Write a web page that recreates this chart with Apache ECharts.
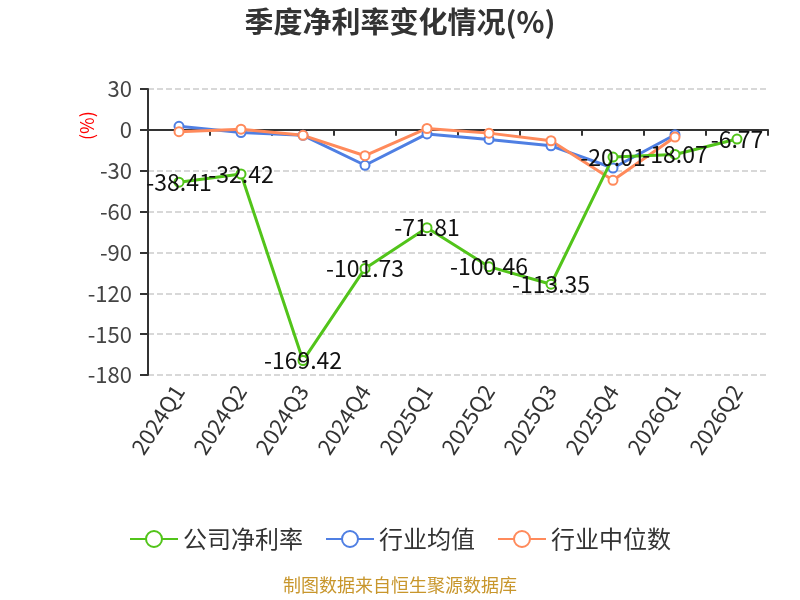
<!DOCTYPE html>
<html>
<head>
<meta charset="utf-8">
<script src="https://cdn.jsdelivr.net/npm/echarts@6/dist/echarts.min.js"></script>
<style>
  html, body { margin: 0; padding: 0; background: #fff; }
  #chart { width: 800px; height: 600px; }
</style>
</head>
<body>
<div id="chart"></div>
<script>
const quarters = ["2024Q1", "2024Q2", "2024Q3", "2024Q4", "2025Q1", "2025Q2", "2025Q3", "2025Q4", "2026Q1", "2026Q2"];
const companyRate = [-38.41, -32.42, -169.42, -101.73, -71.81, -100.46, -113.35, -20.01, -18.07, -6.77];
const industryAvg = [2.6, -2, -4, -26, -3, -7, -11.7, -28, -3.6, null];
const industryMedian = [-1.3, 0.5, -4, -19, 1, -2.4, -8, -37, -5.3, null];
const yTicks = { min: -180, max: 30, step: 30 };

const font = "'Noto Sans CJK SC', 'Noto Sans', sans-serif";
const chart = echarts.init(document.getElementById('chart'), null, { renderer: 'canvas' });

const option = {
    animation: false,
    backgroundColor: '#fff',
    textStyle: { fontFamily: font },
    color: ['#52c41a', '#4f7fe3', '#ff8a5b'],
    title: {
        text: '季度净利率变化情况(%)',
        left: 'center',
        top: 2,
        textStyle: { fontSize: 29, fontWeight: 'bold', color: '#333', fontFamily: font }
    },
    grid: { left: 148, right: 32, top: 89, bottom: 225 },
    legend: {
        bottom: 44,
        left: 'center',
        itemWidth: 48,
        itemHeight: 20,
        itemGap: 22,
        textStyle: { fontSize: 24, color: '#333', fontFamily: font },
        data: ['公司净利率', '行业均值', '行业中位数']
    },
    graphic: [
        {
            type: 'text',
            left: 'center',
            top: 576,
            style: { text: '制图数据来自恒生聚源数据库', fill: '#c8962c', fontSize: 18, fontFamily: font }
        },
        {
            type: 'text',
            x: 78,
            y: 140,
            rotation: Math.PI / 2,
            style: { text: '(%)', fill: '#ff0000', fontSize: 18, fontFamily: font }
        }
    ],
    xAxis: [
        {
            type: 'category',
            data: quarters,
            boundaryGap: true,
            axisLine: { show: false, onZero: false },
            axisTick: { show: false },
            axisLabel: { rotate: 57, fontSize: 22, color: '#333', margin: 12, fontFamily: font }
        },
        {
            type: 'category',
            data: quarters,
            position: 'bottom',
            boundaryGap: true,
            axisLine: { show: true, onZero: true, lineStyle: { color: '#333', width: 2 } },
            axisTick: { show: true, length: 6, lineStyle: { color: '#333', width: 2 } },
            axisLabel: { show: false }
        }
    ],
    yAxis: {
        type: 'value',
        min: yTicks.min,
        max: yTicks.max,
        interval: yTicks.step,
        axisLine: { show: true, lineStyle: { color: '#333', width: 2 } },
        axisTick: { show: true, length: 8, lineStyle: { color: '#333', width: 2 } },
        axisLabel: { fontSize: 22, color: '#444', margin: 16, fontFamily: font },
        splitLine: { show: true, lineStyle: { color: '#ccc', type: 'dashed', width: 1.5 } }
    },
    series: [
        {
            name: '公司净利率',
            type: 'line',
            xAxisIndex: 0,
            data: companyRate,
            symbol: 'emptyCircle',
            symbolSize: 9,
            lineStyle: { width: 3 },
            label: {
                show: true,
                position: 'inside',
                fontSize: 23,
                color: '#111',
                fontFamily: font
            },
            z: 3
        },
        {
            name: '行业均值',
            type: 'line',
            xAxisIndex: 0,
            data: industryAvg,
            symbol: 'emptyCircle',
            symbolSize: 9,
            lineStyle: { width: 3 },
            z: 2
        },
        {
            name: '行业中位数',
            type: 'line',
            xAxisIndex: 0,
            data: industryMedian,
            symbol: 'emptyCircle',
            symbolSize: 9,
            lineStyle: { width: 3 },
            z: 2
        }
    ]
};
chart.setOption(option);
</script>
</body>
</html>
